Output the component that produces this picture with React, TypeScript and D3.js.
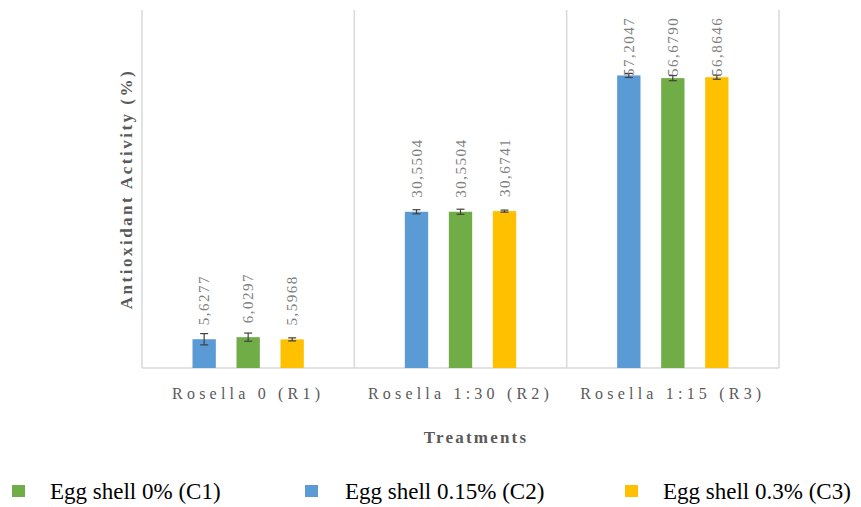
import React from "react";
import * as d3 from "d3";

const categories = ["Rosella 0 (R1)", "Rosella 1:30 (R2)", "Rosella 1:15 (R3)"];
const seriesNames = ["Egg shell 0.15% (C2)", "Egg shell 0% (C1)", "Egg shell 0.3% (C3)"];
const seriesColors = ["#5b9bd5", "#70ad47", "#ffc000"];
const valuesC2 = [5.6277, 30.5504, 57.2047];
const valuesC1 = [6.0297, 30.5504, 56.679];
const valuesC3 = [5.5968, 30.6741, 56.8646];
const errorsC2 = [1.1, 0.4, 0.4];
const errorsC1 = [0.8, 0.5, 0.5];
const errorsC3 = [0.3, 0.2, 0.4];
const labelsC2 = ["5,6277", "30,5504", "57,2047"];
const labelsC1 = ["6,0297", "30,5504", "56,6790"];
const labelsC3 = ["5,5968", "30,6741", "56,8646"];
const legendOrder = ["Egg shell 0% (C1)", "Egg shell 0.15% (C2)", "Egg shell 0.3% (C3)"];
const yDomain = [0, 70];

const W = 861, H = 507;
const plot = { left: 142, right: 779, top: 10, bottom: 368 };
const SERIF = "'Liberation Serif', 'Times New Roman', Times, 'DejaVu Serif', serif";

export default function App() {
  const x0 = d3.scaleBand<string>().domain(categories).range([plot.left, plot.right]).padding(0);
  const x1 = d3.scaleBand<string>().domain(seriesNames).range([-66, 66]).padding(0);
  const y = d3.scaleLinear().domain(yDomain).range([plot.bottom, plot.top]);
  const series = [
    { name: seriesNames[0], color: seriesColors[0], values: valuesC2, errors: errorsC2, labels: labelsC2 },
    { name: seriesNames[1], color: seriesColors[1], values: valuesC1, errors: errorsC1, labels: labelsC1 },
    { name: seriesNames[2], color: seriesColors[2], values: valuesC3, errors: errorsC3, labels: labelsC3 },
  ];
  const barW = x1.bandwidth() * 0.53;
  const labelLen = 66;
  const gridLines = [...categories.map((c) => x0(c)!), plot.right];
  const legendX = [12, 305, 625];
  const legendTextX = [50, 345, 663];

  return (
    <svg width={W} height={H} style={{ position: "absolute", left: 0, top: 0, background: "#fff" }}>
      {gridLines.map((gx, i) => (
        <line key={i} x1={gx} x2={gx} y1={plot.top} y2={plot.bottom} stroke="#d9d9d9" strokeWidth={1.5} />
      ))}
      <line x1={plot.left} x2={plot.right} y1={plot.bottom} y2={plot.bottom} stroke="#d9d9d9" strokeWidth={1.5} />
      {categories.map((c, ci) => {
        const cx = x0(c)! + x0.bandwidth() / 2;
        return (
          <g key={c}>
            {series.map((s) => {
              const bx = cx + x1(s.name)! + x1.bandwidth() / 2;
              const v = s.values[ci];
              const e = s.errors[ci];
              const top = y(v);
              const eTop = y(v + e);
              const eBot = y(v - e);
              const labelStart = Math.max(top - 14, plot.top + labelLen);
              return (
                <g key={s.name}>
                  <rect x={bx - barW / 2} y={top} width={barW} height={plot.bottom - top} fill={s.color} />
                  <line x1={bx} x2={bx} y1={eTop} y2={eBot} stroke="#404040" strokeWidth={1.2} />
                  <line x1={bx - 4} x2={bx + 4} y1={eTop} y2={eTop} stroke="#404040" strokeWidth={1.2} />
                  <line x1={bx - 4} x2={bx + 4} y1={eBot} y2={eBot} stroke="#404040" strokeWidth={1.2} />
                  <text
                    transform={`translate(${bx},${labelStart}) rotate(-90)`}
                    dominantBaseline="central"
                    fontFamily={SERIF}
                    fontSize={15}
                    letterSpacing={1.5}
                    fill="#7f7f7f"
                  >
                    {s.labels[ci]}
                  </text>
                </g>
              );
            })}
            <text
              x={cx}
              y={393}
              textAnchor="middle"
              dominantBaseline="central"
              fontFamily={SERIF}
              fontSize={16}
              letterSpacing={4.2}
              fill="#595959"
            >
              {c}
            </text>
          </g>
        );
      })}
      <text
        transform={`translate(126,${(plot.top + plot.bottom) / 2}) rotate(-90)`}
        textAnchor="middle"
        dominantBaseline="central"
        fontFamily={SERIF}
        fontWeight="bold"
        fontSize={17}
        letterSpacing={2.5}
        fill="#595959"
      >
        Antioxidant Activity (%)
      </text>
      <text
        x={476}
        y={437}
        textAnchor="middle"
        dominantBaseline="central"
        fontFamily={SERIF}
        fontWeight="bold"
        fontSize={17}
        letterSpacing={2.2}
        fill="#595959"
      >
        Treatments
      </text>
      {legendOrder.map((name, i) => {
        const si = seriesNames.indexOf(name);
        return (
          <g key={name}>
            <rect x={legendX[i]} y={485} width={13} height={12} fill={seriesColors[si]} />
            <text x={legendTextX[i]} y={491} dominantBaseline="central" fontFamily={SERIF} fontSize={23} fill="#000">
              {name}
            </text>
          </g>
        );
      })}
    </svg>
  );
}
